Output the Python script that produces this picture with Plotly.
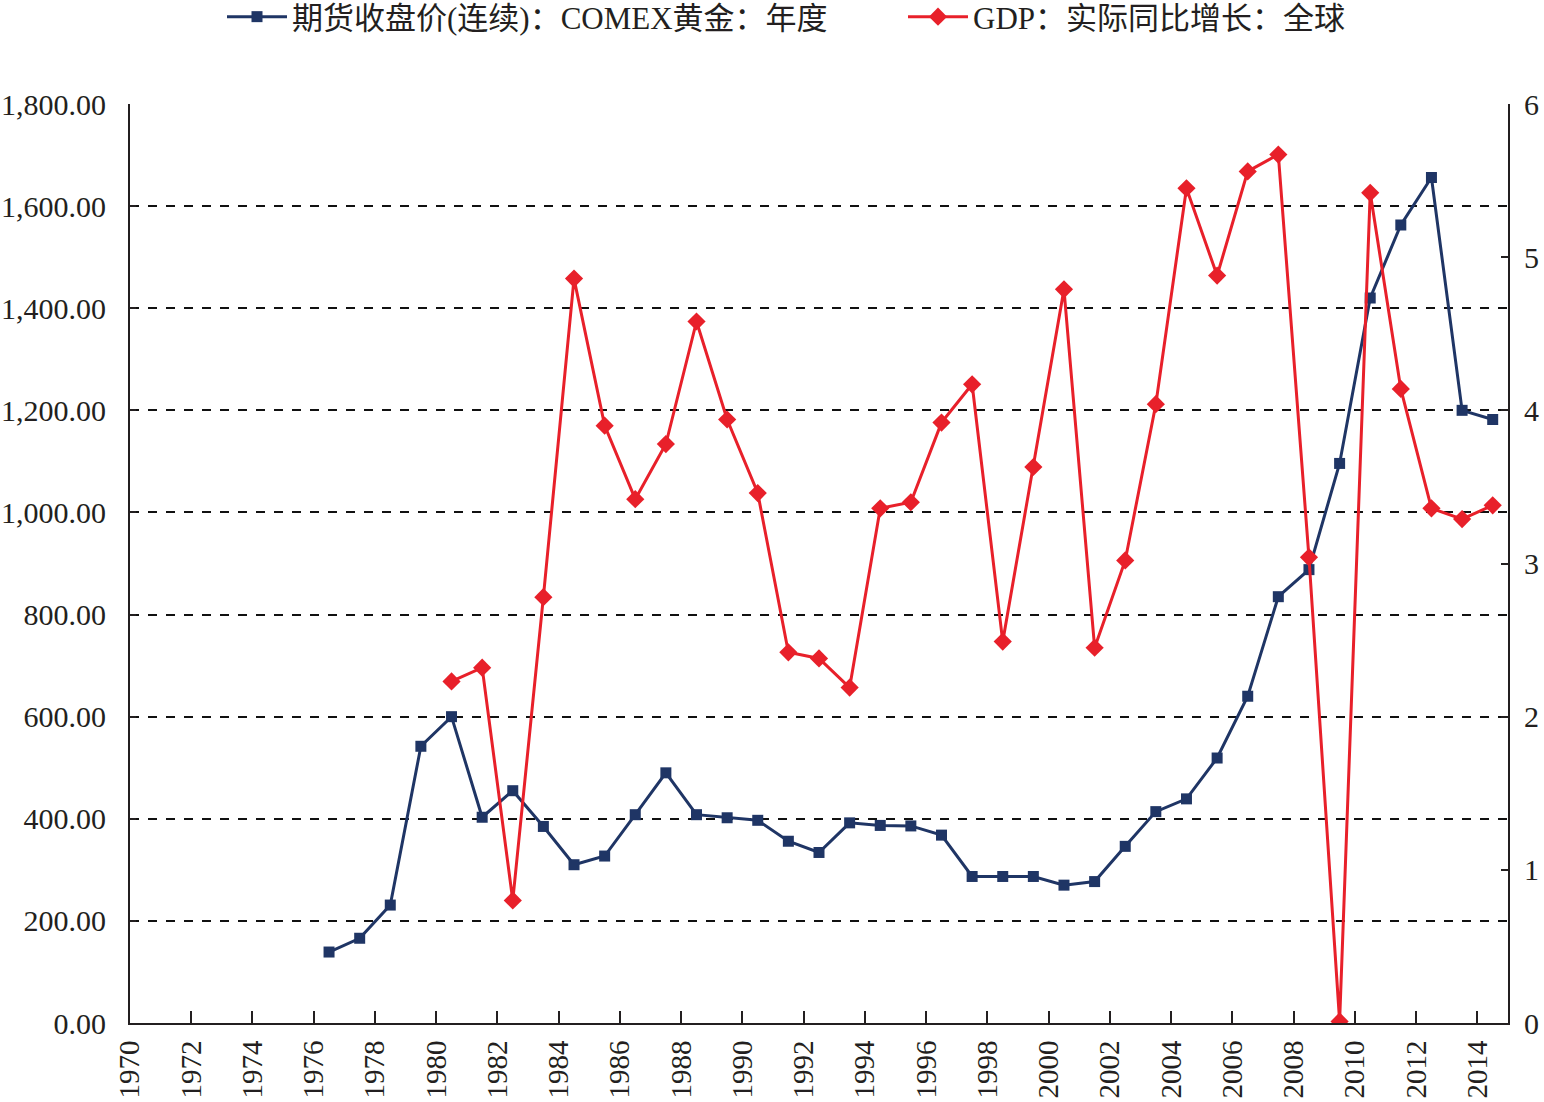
import plotly.graph_objects as go

# ---- data ----
gold_years = [1976, 1977, 1978, 1979, 1980, 1981, 1982, 1983, 1984, 1985,
              1986, 1987, 1988, 1989, 1990, 1991, 1992, 1993, 1994, 1995,
              1996, 1997, 1998, 1999, 2000, 2001, 2002, 2003, 2004, 2005,
              2006, 2007, 2008, 2009, 2010, 2011, 2012, 2013, 2014]
gold_price = [139, 166, 231, 542, 600, 403, 455, 385, 310, 327,
              408, 490, 408, 402, 397, 356, 334, 392, 387, 386,
              368, 287, 287, 287, 270, 277, 346, 414, 439, 519,
              640, 835, 888, 1096, 1420, 1563, 1656, 1200, 1182]

gdp_years = [1980, 1981, 1982, 1983, 1984, 1985, 1986, 1987, 1988, 1989,
             1990, 1991, 1992, 1993, 1994, 1995, 1996, 1997, 1998, 1999,
             2000, 2001, 2002, 2003, 2004, 2005, 2006, 2007, 2008, 2009,
             2010, 2011, 2012, 2013, 2014]
gdp_growth = [2.23, 2.32, 0.80, 2.78, 4.86, 3.90, 3.42, 3.78, 4.58, 3.94,
              3.46, 2.42, 2.38, 2.19, 3.36, 3.40, 3.92, 4.17, 2.49, 3.63,
              4.79, 2.45, 3.02, 4.04, 5.45, 4.88, 5.56, 5.67, 3.04, 0.01,
              5.42, 4.14, 3.36, 3.29, 3.38]

gold_name = "期货收盘价(连续)：COMEX黄金：年度"
gdp_name = "GDP：实际同比增长：全球"

FONT = "Liberation Serif, 'Noto Sans CJK SC', serif"
TXT = "#231f20"
NAVY = "#1f3565"
RED = "#e8202a"

fig = go.Figure()

fig.add_trace(go.Scatter(
    x=[str(y) for y in gold_years], y=gold_price, name=gold_name,
    mode="lines+markers",
    xperiod="M12", xperiodalignment="middle",
    line=dict(color=NAVY, width=3),
    marker=dict(symbol="square", size=11, color=NAVY),
    yaxis="y", legend="legend",
))
fig.add_trace(go.Scatter(
    x=[str(y) for y in gdp_years], y=gdp_growth, name=gdp_name,
    mode="lines+markers",
    xperiod="M12", xperiodalignment="middle",
    line=dict(color=RED, width=3),
    marker=dict(symbol="diamond", size=14, color=RED),
    yaxis="y2", legend="legend2",
))

legend_common = dict(
    orientation="h", xref="container", yref="container",
    xanchor="left", y=1 - 17 / 1102, yanchor="middle",
    font=dict(family=FONT, size=31, color=TXT),
    itemwidth=60, tracegroupgap=0,
    bgcolor="rgba(0,0,0,0)",
)

fig.update_layout(
    width=1544, height=1102,
    margin=dict(l=130, r=36, t=104, b=79, autoexpand=False),
    paper_bgcolor="white", plot_bgcolor="white",
    font=dict(family=FONT, size=30, color=TXT),
    showlegend=True,
    legend=dict(x=222 / 1544, **legend_common),
    legend2=dict(x=903 / 1544, **legend_common),
    xaxis=dict(
        type="date", automargin=False,
        range=["1970-01-01", "2015-01-01"],
        tick0="1970-01-01", dtick="M24", tickformat="%Y",
        tickangle=-90,
        ticks="inside", ticklen=12, tickwidth=2, tickcolor=TXT,
        showline=True, linecolor=TXT, linewidth=2,
        showgrid=False, zeroline=False,
        tickfont=dict(family=FONT, size=29, color=TXT),
        ticklabelstandoff=4,
    ),
    yaxis=dict(
        range=[0, 1800], dtick=200, tick0=0, automargin=False,
        tickformat=",.2f",
        ticks="inside", ticklen=6, tickwidth=2, tickcolor=TXT,
        showline=True, linecolor=TXT, linewidth=2,
        showgrid=True, gridcolor="#111111", gridwidth=2,
        griddash="9px,9px",
        zeroline=False,
        tickfont=dict(family=FONT, size=30, color=TXT),
        ticklabelstandoff=16,
    ),
    yaxis2=dict(
        range=[0, 6], dtick=1, tick0=0, automargin=False,
        overlaying="y", side="right",
        ticks="inside", ticklen=7, tickwidth=2, tickcolor=TXT,
        showline=True, linecolor=TXT, linewidth=2,
        showgrid=False, zeroline=False,
        tickfont=dict(family=FONT, size=30, color=TXT),
        ticklabelstandoff=8,
    ),
)

fig.write_html("out.html")
